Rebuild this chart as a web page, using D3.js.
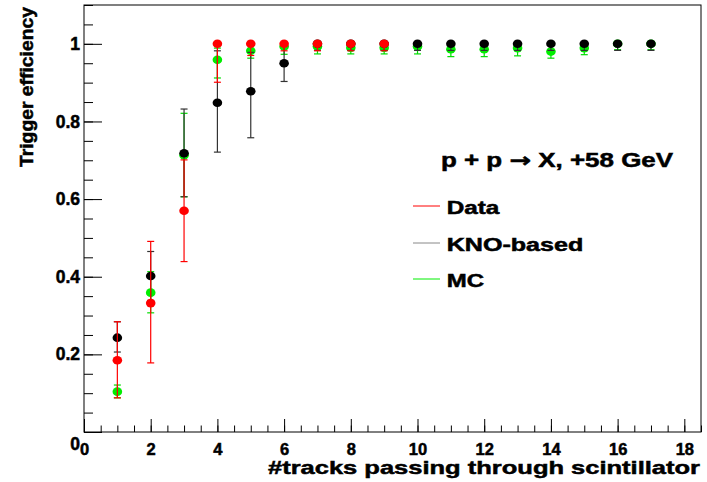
<!DOCTYPE html>
<html><head><meta charset="utf-8">
<script src="https://cdn.jsdelivr.net/npm/d3@7"></script>
<style>
body{margin:0;background:#fff;}
text{font-family:"Liberation Sans",Arial,sans-serif;font-weight:bold;stroke:#000;stroke-width:0.5px;}
</style></head>
<body><svg id="c" width="707" height="482"></svg>
<script>
// ---- data ----
const knoX = [1,2,3,4,5,6,7,8,9,10,11,12,13,14,15,16,17];
const knoY = [0.243,0.402,0.718,0.848,0.878,0.950,1,1,1,1,1,1,1,1,1,1,1];
const knoLo = [0.037,0.063,0.112,0.127,0.120,0.047,0.017,0.017,0.017,0.017,0.017,0.017,0.017,0.017,0.017,0.017,0.017];
const knoHi = [0.041,0.063,0.114,0.134,0.100,0.045,0,0,0,0,0,0,0,0,0,0,0];

const mcX = [1,2,3,4,5,6,7,8,9,10,11,12,13,14,15,16,17];
const mcY = [0.104,0.359,0.713,0.959,0.982,0.993,0.993,0.990,0.990,0.993,0.986,0.986,0.989,0.980,0.989,1,1];
const mcLo = [0.016,0.052,0.107,0.047,0.019,0.020,0.019,0.016,0.016,0.019,0.019,0.019,0.020,0.017,0.017,0.015,0.015];
const mcHi = [0.017,0.054,0.108,0.030,0.015,0.007,0.007,0.010,0.010,0.007,0.014,0.014,0.011,0.020,0.011,0,0];

const dataX = [1,2,3,4,5,6,7,8,9];
const dataY = [0.185,0.332,0.570,1,1,1,1,1,1];
const dataLo = [0.097,0.154,0.131,0.099,0.030,0.018,0.018,0.018,0.018];
const dataHi = [0.099,0.159,0.131,0,0,0,0,0,0];

const xMajor = [0,2,4,6,8,10,12,14,16,18];
const yMajor = [0,0.2,0.4,0.6,0.8,1.0];
const seriesNames = ["Data","KNO-based","MC"];
const titleParts = ["p + p ", "\u2192", " X, +58 GeV"];
const xTitle = "#tracks passing through scintillator";
const yTitle = "Trigger efficiency";

// ---- drawing ----
const svg = d3.select("#c");
const L=84, R=701, T=5, B=432;
const x = d3.scaleLinear().domain([0,18.5]).range([L,R]);
const y = d3.scaleLinear().domain([0,1.1]).range([B,T]);
const tickFont = "DejaVu Sans";

// minor ticks
svg.append("g").attr("transform",`translate(0,${B})`)
  .call(d3.axisBottom(x).tickValues(d3.range(0,18.51,0.5)).tickSizeInner(-6.5).tickSizeOuter(0).tickFormat(""))
  .call(g=>g.select(".domain").remove());
svg.append("g").attr("transform",`translate(${L},0)`)
  .call(d3.axisLeft(y).tickValues(d3.range(0,1.1001,0.05)).tickSizeInner(-9).tickSizeOuter(0).tickFormat(""))
  .call(g=>g.select(".domain").remove());
// major ticks
const fmt = d => (+d.toFixed(1)).toString();
const gx = svg.append("g").attr("transform",`translate(0,${B})`)
  .call(d3.axisBottom(x).tickValues(xMajor).tickSizeInner(-13).tickSizeOuter(0).tickPadding(11).tickFormat(fmt))
  .call(g=>g.select(".domain").remove());
gx.selectAll("text").attr("font-size",16.5).attr("font-family",tickFont).attr("font-weight","bold").attr("fill","#000");
const gy = svg.append("g").attr("transform",`translate(${L},0)`)
  .call(d3.axisLeft(y).tickValues(yMajor).tickSizeInner(-18).tickSizeOuter(0).tickPadding(4).tickFormat(fmt))
  .call(g=>g.select(".domain").remove());
gy.selectAll("text").attr("font-size",17.5).attr("font-family",tickFont).attr("font-weight","bold").attr("fill","#000");
gy.selectAll(".tick").filter(d=>d===0).select("text").attr("dy","1.0em");
svg.selectAll(".tick line").attr("stroke","#000");

// frame
svg.append("rect").attr("x",L).attr("y",T).attr("width",R-L).attr("height",B-T)
  .attr("fill","none").attr("stroke","#000").attr("stroke-width",1);

function drawSeries(xs, ys, lo, hi, color, errColor){
  const g = svg.append("g");
  const pts = xs.map((v,i)=>({x:v,y:ys[i],lo:lo[i],hi:hi[i]}));
  pts.forEach(p=>{
    const cx = x(p.x), y1 = y(p.y-p.lo), y2 = y(p.y+p.hi);
    g.append("line").attr("x1",cx).attr("x2",cx).attr("y1",y1).attr("y2",y2).attr("stroke",errColor).attr("stroke-width",1.2);
    if(p.lo>0) g.append("line").attr("x1",cx-3.5).attr("x2",cx+3.5).attr("y1",y1).attr("y2",y1).attr("stroke",errColor).attr("stroke-width",1.2);
    if(p.hi>0) g.append("line").attr("x1",cx-3.5).attr("x2",cx+3.5).attr("y1",y2).attr("y2",y2).attr("stroke",errColor).attr("stroke-width",1.2);
  });
  g.selectAll("ellipse").data(pts).join("ellipse")
    .attr("cx",d=>x(d.x)).attr("cy",d=>y(d.y)).attr("rx",4.8).attr("ry",4.3).attr("fill",color);
}
drawSeries(mcX, mcY, mcLo, mcHi, "#00ee00", "#00dd00");
drawSeries(knoX, knoY, knoLo, knoHi, "#000000", "#333333");
drawSeries(dataX, dataY, dataLo, dataHi, "#ff0000", "#ff0000");

// axis titles
svg.append("text").attr("x",700).attr("y",474).attr("text-anchor","end")
  .attr("font-size",19).attr("textLength",432).attr("lengthAdjust","spacingAndGlyphs").text(xTitle);
svg.append("text").attr("transform","translate(33,7) rotate(-90)").attr("text-anchor","end")
  .attr("font-size",18).attr("textLength",160).attr("lengthAdjust","spacingAndGlyphs").text(yTitle);

// plot title
const tt = svg.append("text").attr("x",441).attr("y",166.5).attr("font-size",20)
  .attr("textLength",232).attr("lengthAdjust","spacingAndGlyphs");
tt.selectAll("tspan").data(titleParts).join("tspan")
  .attr("font-family",(d,i)=>i===1?"DejaVu Sans":null).text(d=>d);

// legend
const legColors = ["#ff0000","#888888","#00ee00"];
const legY = [206,243,279];
const legW = [52.6,136.6,37.3];
seriesNames.forEach((n,i)=>{
  svg.append("line").attr("x1",413).attr("x2",440).attr("y1",legY[i]).attr("y2",legY[i]).attr("stroke",legColors[i]).attr("stroke-width",1);
  svg.append("text").attr("x",446.7).attr("y",legY[i]+8).attr("font-size",18)
    .attr("textLength",legW[i]).attr("lengthAdjust","spacingAndGlyphs").text(n);
});
</script></body></html>
